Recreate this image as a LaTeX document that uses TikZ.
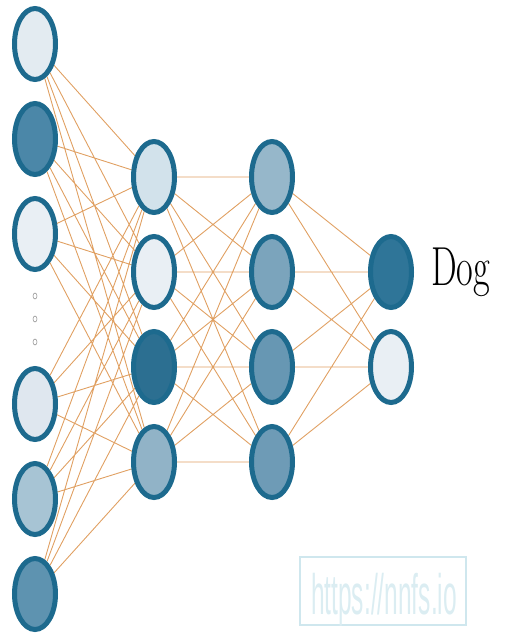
\documentclass[tikz,border=0pt]{standalone}
\usepackage{fontspec}
\usepackage{xcolor}
\usetikzlibrary{shapes.geometric, backgrounds}

\newfontfamily\urlfont{Liberation Sans}

\definecolor{ringblue}{HTML}{1D6A8E}
\definecolor{wire}{RGB}{224,160,98}
\definecolor{markcyan}{HTML}{CFE7EE}
% fill shades, light to dark
\definecolor{shadeA}{HTML}{E3EBF1}
\definecolor{shadeB}{HTML}{E9EFF4}
\definecolor{shadeC}{HTML}{DFE7EF}
\definecolor{shadeD}{HTML}{D2E2EB}
\definecolor{shadeE}{HTML}{A7C4D4}
\definecolor{shadeF}{HTML}{96B7CA}
\definecolor{shadeG}{HTML}{91B3C7}
\definecolor{shadeH}{HTML}{7BA4BC}
\definecolor{shadeI}{HTML}{6E9BB6}
\definecolor{shadeJ}{HTML}{6797B3}
\definecolor{shadeK}{HTML}{5E93B0}
\definecolor{shadeL}{HTML}{4B87A8}
\definecolor{shadeM}{HTML}{2F7598}
\definecolor{shadeN}{HTML}{2C6F91}

\tikzset{
    neuron/.style={ellipse, draw=ringblue, line width=5pt, minimum width=41pt, minimum height=71pt, inner sep=0pt},
    dots/.style={ellipse, draw=gray!80, line width=0.6pt, minimum width=4pt, minimum height=6pt, inner sep=0pt},
    wires/.style={draw=wire, line width=0.9pt}
}

\begin{document}
\begin{tikzpicture}[x=1pt, y=-1pt]
        \useasboundingbox (0,0) rectangle (505,634);

        % input layer
        \node[neuron, fill=shadeA] (a1) at (35, 44) {};
        \node[neuron, fill=shadeL] (a2) at (35, 139) {};
        \node[neuron, fill=shadeB] (a3) at (35, 234) {};
        \node[neuron, fill=shadeC] (a4) at (35, 404) {};
        \node[neuron, fill=shadeE] (a5) at (35, 499) {};
        \node[neuron, fill=shadeK] (a6) at (35, 594) {};

        \node[dots] (dot1) at (35, 296) {};
        \node[dots] (dot2) at (35, 319) {};
        \node[dots] (dot3) at (35, 342) {};

        % hidden layers
        \node[neuron, fill=shadeD] (b1) at (154, 177) {};
        \node[neuron, fill=shadeB] (b2) at (154, 272) {};
        \node[neuron, fill=shadeN] (b3) at (154, 367) {};
        \node[neuron, fill=shadeG] (b4) at (154, 462) {};

        \node[neuron, fill=shadeF] (c1) at (272, 177) {};
        \node[neuron, fill=shadeH] (c2) at (272, 272) {};
        \node[neuron, fill=shadeJ] (c3) at (272, 367) {};
        \node[neuron, fill=shadeI] (c4) at (272, 462) {};

        % output layer
        \node[neuron, fill=shadeM] (d1) at (391, 272) {};
        \node[neuron, fill=shadeB] (d2) at (391, 367) {};

        \node[anchor=base west, inner sep=0pt, xscale=0.66, font=\fontsize{55}{60}\selectfont] (dog) at (431, 285) {Dog};

        % watermark
        \node[draw=markcyan, line width=1.4pt, minimum width=166pt, minimum height=68pt, inner sep=0pt] (mark) at (383, 591) {};
        \node[anchor=base, inner sep=0pt, xscale=0.43, text=markcyan!75!white, font=\urlfont\fontsize{57}{62}\selectfont] (url) at (384, 614) {https://nnfs.io};

        \begin{scope}[on background layer]
        \draw[wires] (a1) to (b1) (a1) to (b2) (a1) to (b3) (a1) to (b4)
            (a2) to (b1) (a2) to (b2) (a2) to (b3) (a2) to (b4)
            (a3) to (b1) (a3) to (b2) (a3) to (b3) (a3) to (b4)
            (a4) to (b1) (a4) to (b2) (a4) to (b3) (a4) to (b4)
            (a5) to (b1) (a5) to (b2) (a5) to (b3) (a5) to (b4)
            (a6) to (b1) (a6) to (b2) (a6) to (b3) (a6) to (b4);

        \draw[wires] (b1) to (c1) (b1) to (c2) (b1) to (c3) (b1) to (c4)
            (b2) to (c1) (b2) to (c2) (b2) to (c3) (b2) to (c4)
            (b3) to (c1) (b3) to (c2) (b3) to (c3) (b3) to (c4)
            (b4) to (c1) (b4) to (c2) (b4) to (c3) (b4) to (c4);

        \draw[wires] (c1) to (d1) (c1) to (d2)
            (c2) to (d1) (c2) to (d2)
            (c3) to (d1) (c3) to (d2)
            (c4) to (d1) (c4) to (d2);
        \end{scope}
    \end{tikzpicture}
\end{document}
